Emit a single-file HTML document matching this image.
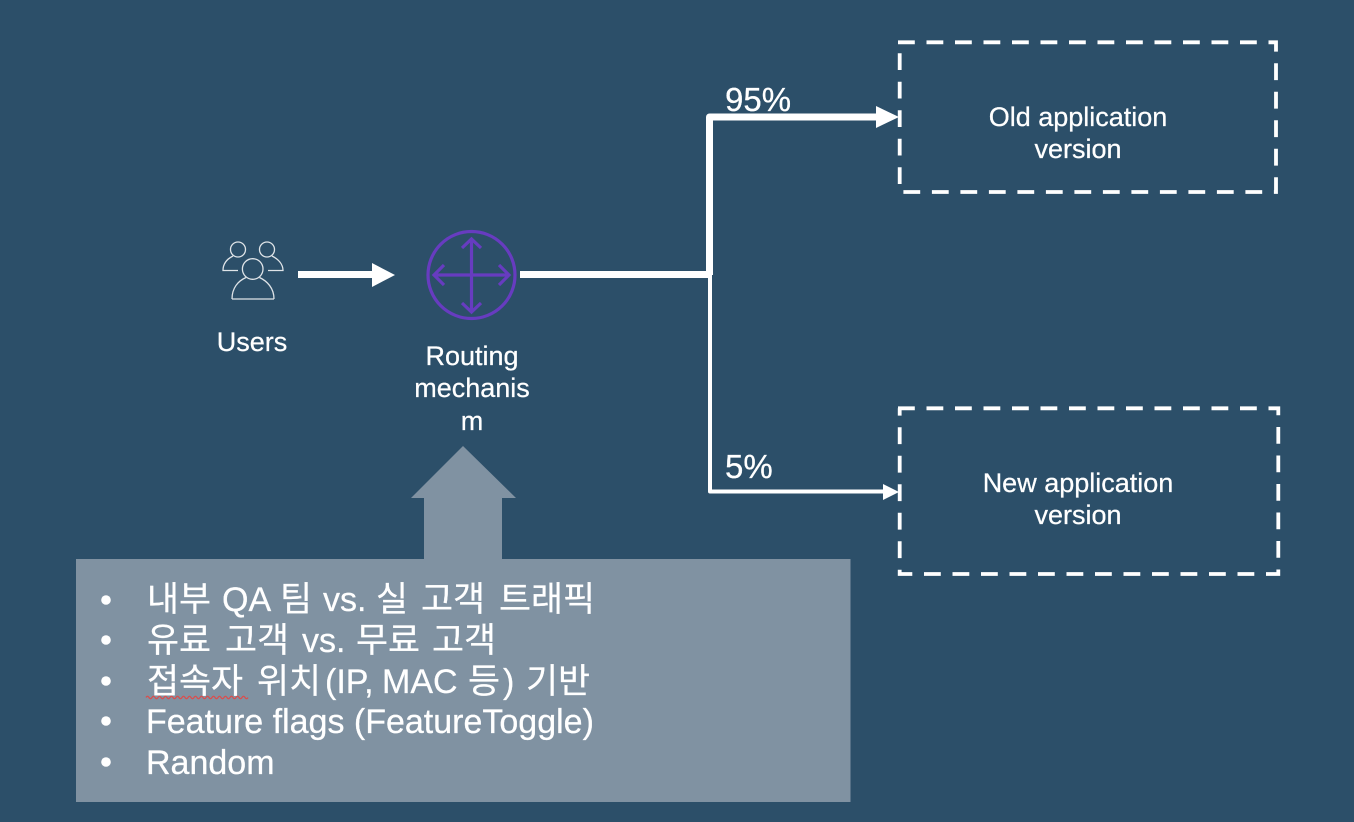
<!DOCTYPE html>
<html lang="ko">
<head>
<meta charset="utf-8">
<title>Routing diagram</title>
<style>
html,body{margin:0;padding:0;background:#2c4f69;width:1354px;height:822px;overflow:hidden}
svg{display:block}
text{font-family:"Liberation Sans","Noto Sans CJK KR","NanumGothic",sans-serif;fill:#fff;stroke:#fff;stroke-width:.25}
.k{font-size:34.800px}
</style>
</head>
<body>
<svg width="1354" height="822" viewBox="0 0 1354 822" xmlns="http://www.w3.org/2000/svg">
<rect width="1354" height="822" fill="#2c4f69"/>

<!-- Up arrow and panel -->
<polygon points="463,446 516,498 502,498 502,560 424,560 424,498 411,498" fill="#8092a2"/>
<rect x="76" y="559" width="774.500" height="243" fill="#8092a2"/>

<!-- Connectors -->
<rect x="298" y="271" width="76" height="7" fill="#fff"/>
<polygon points="372,263 395,275 372,287" fill="#fff"/>
<rect x="520" y="271" width="192" height="7" fill="#fff"/>
<path d="M709.500 275V117H880" fill="none" stroke="#fff" stroke-width="7" stroke-linejoin="round"/>
<polygon points="876,106 899,117 876,128" fill="#fff"/>
<path d="M710 275V491.500H885" fill="none" stroke="#fff" stroke-width="4" stroke-linejoin="round"/>
<polygon points="883,484 899,492 883,500" fill="#fff"/>

<!-- Dashed boxes -->
<path d="M898 42.300H1276V192H899.700V42.300" fill="none" stroke="#fff" stroke-width="3.800" stroke-dasharray="16.800 11.700"/>
<path d="M898 408.300H1278.300V574H899.700V408.300" fill="none" stroke="#fff" stroke-width="3.800" stroke-dasharray="16.800 11.700"/>

<!-- Users icon -->
<g fill="none" stroke="#dfe4e8" stroke-width="1.300">
<circle cx="238" cy="249.500" r="7.500"/>
<circle cx="267" cy="249.500" r="7.500"/>
<path d="M233 256C227 259 223 264 223 270.500H238"/>
<path d="M272 256C278 259 283 264 283 270.500H268"/>
<circle cx="252.700" cy="269" r="10.300"/>
<path d="M232 299C232 288 238 281 246 277.500M274 299C274 288 267 281 259.500 277.500M232 299H274"/>
</g>

<!-- Routing icon -->
<g fill="none" stroke="#673cc0" stroke-width="3.200">
<circle cx="471.500" cy="275" r="43.500"/>
<path d="M471.500 239V312M434 275H509"/>
<path d="M462 248L471.500 239L481 248M462 303L471.500 312L481 303M444 265L434 275L444 285M499 265L509 275L499 285"/>
</g>

<!-- Labels -->
<g font-size="27" text-anchor="middle">
<text x="252" y="351">Users</text>
<text x="472" y="365">Routing</text>
<text x="472" y="397">mechanis</text>
<text x="472" y="430">m</text>
<text x="1078" y="126">Old application</text>
<text x="1078" y="158">version</text>
<text x="1078" y="492">New application</text>
<text x="1078" y="524">version</text>
</g>
<text x="725" y="111" font-size="33">95%</text>
<text x="725" y="478" font-size="33">5%</text>

<!-- List -->
<circle cx="106" cy="600" r="4.800" fill="#fff"/>
<circle cx="106" cy="640" r="4.800" fill="#fff"/>
<circle cx="106" cy="681" r="4.800" fill="#fff"/>
<circle cx="106" cy="721" r="4.800" fill="#fff"/>
<circle cx="106" cy="762" r="4.800" fill="#fff"/>
<g font-size="34">
<text y="611"><tspan class="k" x="147">내부</tspan> <tspan x="222">QA</tspan> <tspan class="k" x="280">팀</tspan> <tspan x="323">vs.</tspan> <tspan class="k" x="376">실</tspan> <tspan class="k" x="421">고객</tspan> <tspan class="k" x="499">트래픽</tspan></text>
<text y="652"><tspan class="k" x="147">유료</tspan> <tspan class="k" x="225">고객</tspan> <tspan x="302">vs.</tspan> <tspan class="k" x="356">무료</tspan> <tspan class="k" x="432">고객</tspan></text>
<text y="693"><tspan class="k" x="147">접속자</tspan> <tspan class="k" x="257">위치</tspan><tspan x="325">(IP,</tspan> <tspan x="382">MAC</tspan> <tspan class="k" x="468">등</tspan><tspan x="503">)</tspan> <tspan class="k" x="526">기반</tspan></text>
<text x="146" y="733">Feature flags (FeatureToggle)</text>
<text x="146" y="774">Random</text>
</g>
<path d="M146 697.500q1.500 -2.500 3 0t3 0t3 0t3 0t3 0t3 0t3 0t3 0t3 0t3 0t3 0t3 0t3 0t3 0t3 0t3 0t3 0t3 0t3 0t3 0t3 0t3 0t3 0t3 0t3 0t3 0t3 0t3 0t3 0t3 0t3 0t3 0t3 0t3 0" fill="none" stroke="#d8504f" stroke-width="1.300"/>
</svg>
</body>
</html>
